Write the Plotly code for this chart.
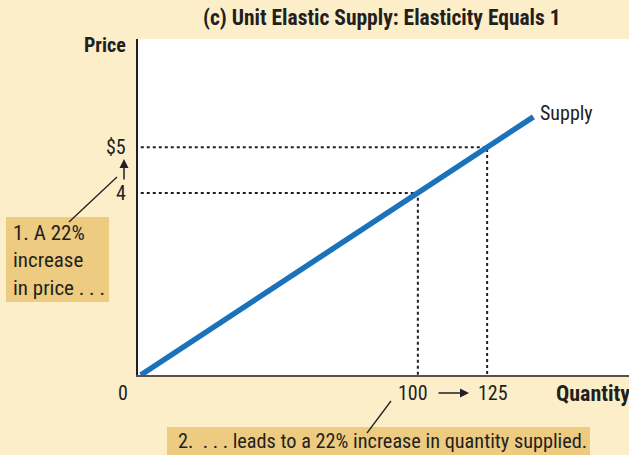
import plotly.graph_objects as go

# ---- data ----
supply_q = [0, 141.7]
supply_p = [0, 5.67]
points_q = [100, 125]
points_p = [4, 5]
y_tick_labels = ["4", "$5"]
x_tick_labels = ["100", "125"]

FONT = "Liberation Sans Narrow, Roboto Condensed, DejaVu Sans Condensed, sans-serif"
TXT = "#231F20"
BG = "#FCEEC8"
BOX = "#EDCB80"
BLUE = "#1A73BA"

W, H = 629, 455
L, R, T, B = 138, 0, 39, 80
PW, PH = W - L - R, H - T - B

def px(x):
    return (x - L) / PW

def py(y):
    return (H - B - y) / PH

fig = go.Figure()

# dotted guide lines
for q, p in zip(points_q, points_p):
    fig.add_trace(go.Scatter(x=[0, q, q], y=[p, p, 0], mode="lines",
                             line=dict(color=TXT, width=2, dash="dot"),
                             hoverinfo="skip", showlegend=False))

fig.add_trace(go.Scatter(x=supply_q, y=supply_p, mode="lines",
                         line=dict(color=BLUE, width=5.5),
                         hoverinfo="skip", showlegend=False))

FS = 20
ann = []
# title
ann.append(dict(text="<b>(c) Unit Elastic Supply: Elasticity Equals 1</b>",
                xref="paper", yref="paper", x=px(382), y=py(17),
                xanchor="center", yanchor="middle", showarrow=False,
                font=dict(size=21.5, color=TXT, family=FONT)))
# axis titles
ann.append(dict(text="<b>Price</b>", xref="paper", yref="paper", x=0, xshift=-10,
                y=py(45), xanchor="right", yanchor="middle", showarrow=False,
                font=dict(size=FS, color=TXT, family=FONT)))
ann.append(dict(text="<b>Quantity</b>", xref="paper", yref="paper", x=px(554),
                y=py(393), xanchor="left", yanchor="middle", showarrow=False,
                font=dict(size=22, color=TXT, family=FONT)))
# tick labels
ann.append(dict(text="0", xref="paper", yref="paper", x=px(123), y=py(393),
                xanchor="center", yanchor="middle", showarrow=False,
                font=dict(size=FS, color=TXT, family=FONT)))
for q, lab in zip(points_q, x_tick_labels):
    ann.append(dict(text=lab, xref="x", yref="paper", x=q, xshift=-5 if q == 100 else 6,
                    y=py(393), xanchor="center", yanchor="middle", showarrow=False,
                    font=dict(size=FS, color=TXT, family=FONT)))
for p, lab in zip(points_p, y_tick_labels):
    ann.append(dict(text=lab, xref="paper", yref="y", x=0, xshift=-10, y=p,
                    xanchor="right", yanchor="middle", showarrow=False,
                    font=dict(size=FS, color=TXT, family=FONT)))
# supply label
ann.append(dict(text="Supply", xref="x", yref="y", x=supply_q[1], xshift=5,
                y=supply_p[1], yshift=4, xanchor="left", yanchor="middle", showarrow=False,
                font=dict(size=FS, color=TXT, family=FONT)))
# arrows
ann.append(dict(text="", xref="paper", yref="paper", x=px(124), y=py(159),
                ax=0, ay=22, showarrow=True, arrowhead=2, arrowsize=1.2,
                arrowwidth=1.5, arrowcolor=TXT))
ann.append(dict(text="", xref="paper", yref="paper", x=px(469), y=py(393),
                ax=-32, ay=0, showarrow=True, arrowhead=2, arrowsize=1.2,
                arrowwidth=1.5, arrowcolor=TXT))
# box texts
ann.append(dict(text="1. A 22%<br>increase<br>in price . . .", xref="paper", yref="paper",
                x=px(11), y=py(260), xanchor="left", yanchor="middle", showarrow=False,
                align="left", font=dict(size=21, color=TXT, family=FONT)))
ann.append(dict(text="2.  . . . leads to a 22% increase in quantity supplied.",
                xref="paper", yref="paper",
                x=px(176), y=py(441), xanchor="left", yanchor="middle", showarrow=False,
                align="left", font=dict(size=20.3, color=TXT, family=FONT)))

shapes = [
    dict(type="rect", xref="paper", yref="paper", x0=px(6), y0=py(217),
         x1=px(109), y1=py(302), fillcolor=BOX, line=dict(width=0)),
    dict(type="rect", xref="paper", yref="paper", x0=px(167), y0=py(427),
         x1=px(590), y1=py(460), fillcolor=BOX, line=dict(width=0)),
    dict(type="line", xref="paper", yref="paper", x0=px(69), y0=py(222),
         x1=px(117), y1=py(177), line=dict(color=TXT, width=1.3)),
    dict(type="line", xref="paper", yref="paper", x0=px(367), y0=py(433),
         x1=px(391), y1=py(401), line=dict(color=TXT, width=1.3)),
]

fig.update_layout(
    width=W, height=H,
    margin=dict(l=L, r=R, t=T, b=B, pad=0),
    paper_bgcolor=BG, plot_bgcolor="white",
    annotations=ann, shapes=shapes,
    xaxis=dict(range=[-1, 176.2], showgrid=False, zeroline=False, showticklabels=False,
               ticks="", showline=True, linecolor="#5A5046", linewidth=2),
    yaxis=dict(range=[0, 7.38], showgrid=False, zeroline=False, showticklabels=False,
               ticks="", showline=True, linecolor=TXT, linewidth=1.5),
)

fig.write_html("out.html", config={"displayModeBar": False},
               post_script="document.body.style.margin='0';document.body.style.overflow='hidden';")
